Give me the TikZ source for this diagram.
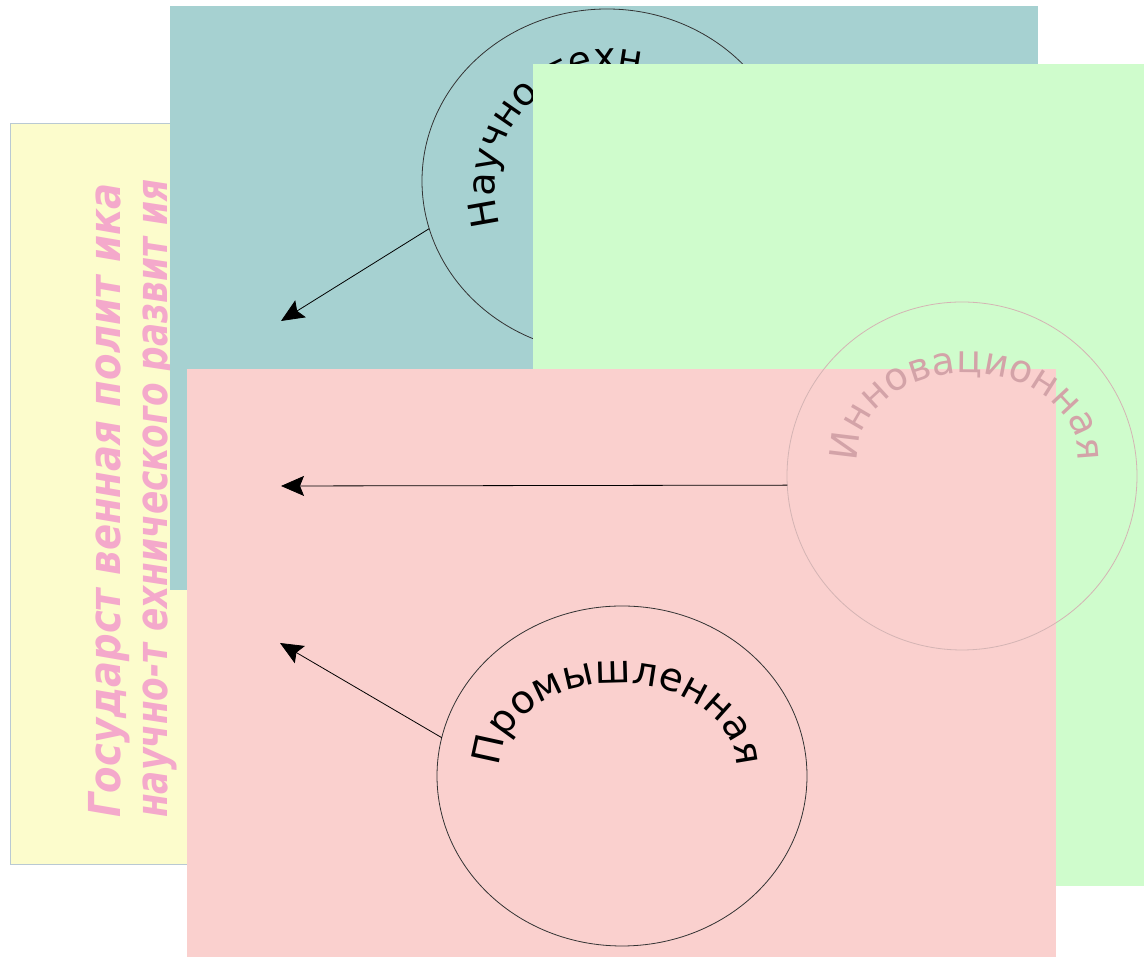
\documentclass[tikz,border=0pt]{standalone}
\usepackage{fontspec}
\usepackage{graphicx}
\setmainfont{DejaVu Sans}
\newfontfamily\dvs{DejaVu Sans}
\usetikzlibrary{shapes.geometric, arrows.meta, decorations.text}
\definecolor{yel}{HTML}{FCFCCC}
\definecolor{yelline}{HTML}{B9C9D3}
\definecolor{tealbg}{HTML}{A6D1D1}
\definecolor{greenbg}{HTML}{CFFCCC}
\definecolor{pinkbg}{HTML}{FAD0CE}
\definecolor{vtextc}{HTML}{F4A9CB}
\definecolor{innov}{HTML}{D3A3A8}
\definecolor{innovline}{HTML}{D4B4B4}
\begin{document}
\begin{tikzpicture}[x=1pt,y=1pt,
  circ/.style={ellipse, draw=black!80, line width=0.8pt, inner sep=0pt, outer sep=0pt},
  link/.style={line width=0.8pt, -{Stealth[length=23pt,width=20pt,inset=4pt]}},
  vtext/.style={rotate=90, anchor=base west, inner sep=0pt, text=vtextc, font=\dvs\bfseries\itshape\fontsize{44}{50}\selectfont}
]
\fill[white] (0,0) rectangle (1144,957);
\useasboundingbox (0,0) rectangle (1144,957);
% yellow panel
\filldraw[fill=yel, draw=yelline, line width=0.8pt] (10,93) rectangle (200,834);
\node[vtext] (v1) at (120,139) {\resizebox{634pt}{\height}{Государст венная полит ика}};
\node[vtext] (v2) at (167,139) {\resizebox{638pt}{\height}{научно-т ехнического развит ия}};
% teal panel
\fill[tealbg] (170,367) rectangle (1038,951);
\node[circ, minimum width=370pt, minimum height=344pt] (c1) at (607,776) {};
\path[decorate, decoration={text along path, text align=left,
  text={|\dvs\fontsize{38}{40}\selectfont|Научно-техн}}]
  ([shift={(612,767)}]197:117pt and 120pt) arc[start angle=197, end angle=10, x radius=117pt, y radius=120pt];
\coordinate (tip1) at (281,636);
\draw[link] (c1.195) -- (tip1);
% green panel
\fill[greenbg] (533,71) rectangle (1144,893);
% pink panel
\fill[pinkbg] (187,0) rectangle (1056,588);
% innovation circle
\node[circ, draw=innovline, minimum width=350pt, minimum height=348pt] (c2) at (962,481) {};
\path[decorate, decoration={text along path, text align=center, text color=innov,
  text={|\dvs\fontsize{38}{40}\selectfont|Инновационная}}]
  ([shift={(968,502)}]190:110pt and 82pt) arc[start angle=190, end angle=-10, x radius=110pt, y radius=82pt];
% industrial circle
\node[circ, minimum width=370pt, minimum height=340pt] (c3) at (622,181) {};
\path[decorate, decoration={text along path, text align=center,
  text={|\dvs\fontsize{39}{40}\selectfont|Промышленная}}]
  ([shift={(618,192)}]190:118pt and 82pt) arc[start angle=190, end angle=-10, x radius=118pt, y radius=82pt];
\coordinate (tip2) at (281,471);
\coordinate (tip3) at (280,314);
\draw[link] (c2.183) -- (tip2);
\draw[link] (c3.168) -- (tip3);
\end{tikzpicture}
\end{document}
